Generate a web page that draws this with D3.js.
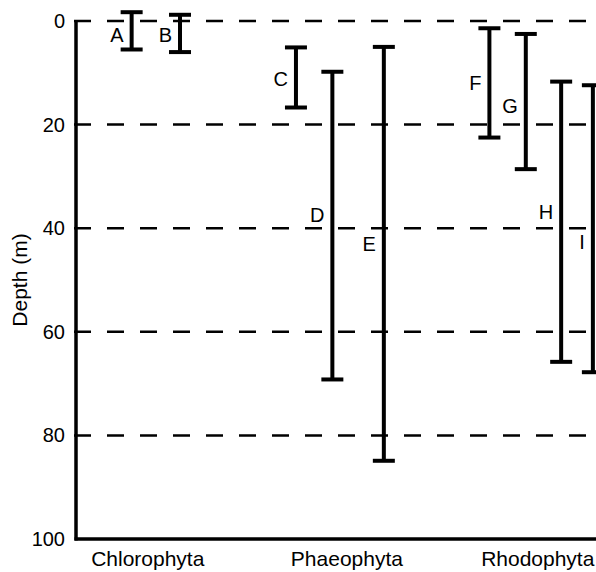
<!DOCTYPE html>
<html>
<head>
<meta charset="utf-8">
<script src="https://cdn.jsdelivr.net/npm/d3@7"></script>
<style>
  html, body { margin: 0; padding: 0; background: #fff; }
  svg { display: block; }
  text { font-family: "Liberation Sans", Arial, Helvetica, sans-serif; fill: #000; }
</style>
</head>
<body>
<svg id="chart" width="596" height="572"></svg>
<script>
// ---- data ----
const categories = ["Chlorophyta", "Phaeophyta", "Rhodophyta"];
const categoryPos = [1.38, 5.21, 8.88];          // position along the x axis (axis units 0–10)
const species = ["A", "B", "C", "D", "E", "F", "G", "H", "I"];
const speciesPos = [1.07, 2.0, 4.23, 4.93, 5.92, 7.95, 8.65, 9.33, 9.94];
const depthMin = [-1.7, -1.2, 5.1, 9.8, 5.0, 1.4, 2.5, 11.7, 12.4];
const depthMax = [5.5, 6.0, 16.7, 69.2, 84.9, 22.5, 28.6, 65.8, 67.8];
const labelDepth = [2.7, 2.7, 11.2, 37.5, 43.0, 12.0, 16.4, 36.8, 42.6];
const depthTicks = [0, 20, 40, 60, 80, 100];
const gridDepths = [0, 20, 40, 60, 80];

(function () {
  const svg = d3.select("#chart");
  const mLeft = 76, mRight = 596, mTop = 21, mBottom = 539;
  const FS = 20, FS_BIG = 21;

  const x = d3.scaleLinear().domain([0, 10]).range([mLeft, mRight]);
  const y = d3.scaleLinear().domain([0, 100]).range([mTop, mBottom]);

  // dashed grid lines
  svg.append("g").selectAll("line").data(gridDepths).join("line")
    .attr("x1", mLeft - 2).attr("x2", mRight)
    .attr("y1", d => y(d)).attr("y2", d => y(d))
    .attr("stroke", "#000").attr("stroke-width", 2.5)
    .attr("stroke-dasharray", "17,16");

  // y axis
  const yAxis = d3.axisLeft(y).tickValues(depthTicks).tickSize(0).tickPadding(11);
  const gy = svg.append("g").attr("transform", `translate(${mLeft},0)`).call(yAxis)
    .attr("font-size", FS).attr("font-family", '"Liberation Sans", Arial, sans-serif');
  gy.select(".domain").remove();
  gy.selectAll("text").attr("font-size", FS);

  // x axis (category labels)
  const gx = svg.append("g").attr("transform", `translate(0,${mBottom})`);
  gx.selectAll("text").data(categories).join("text")
    .attr("x", (d, i) => x(categoryPos[i]))
    .attr("y", 27)
    .attr("text-anchor", "middle")
    .attr("font-size", FS_BIG)
    .text(d => d);

  // axis frame lines
  svg.append("line").attr("x1", mLeft).attr("x2", mLeft).attr("y1", mTop).attr("y2", mBottom + 1.5)
    .attr("stroke", "#000").attr("stroke-width", 3.5);
  svg.append("line").attr("x1", mLeft - 1.5).attr("x2", mRight).attr("y1", mBottom).attr("y2", mBottom)
    .attr("stroke", "#000").attr("stroke-width", 3.5);

  // y axis title
  svg.append("text")
    .attr("transform", `translate(27,280) rotate(-90)`)
    .attr("text-anchor", "middle")
    .attr("font-size", FS_BIG)
    .text("Depth (m)");

  // range bars
  const bars = species.map((s, i) => ({ s, pos: speciesPos[i], lo: depthMin[i], hi: depthMax[i], lab: labelDepth[i] }));
  const capW = 22;
  const bg = svg.append("g").selectAll("g").data(bars).join("g");
  bg.append("line")
    .attr("x1", d => x(d.pos)).attr("x2", d => x(d.pos))
    .attr("y1", d => y(d.lo)).attr("y2", d => y(d.hi))
    .attr("stroke", "#000").attr("stroke-width", 4);
  bg.append("line")
    .attr("x1", d => x(d.pos) - capW / 2).attr("x2", d => x(d.pos) + capW / 2)
    .attr("y1", d => y(d.lo)).attr("y2", d => y(d.lo))
    .attr("stroke", "#000").attr("stroke-width", 4);
  bg.append("line")
    .attr("x1", d => x(d.pos) - capW / 2).attr("x2", d => x(d.pos) + capW / 2)
    .attr("y1", d => y(d.hi)).attr("y2", d => y(d.hi))
    .attr("stroke", "#000").attr("stroke-width", 4);
  bg.append("text")
    .attr("x", d => x(d.pos) - 8)
    .attr("y", d => y(d.lab) + 7)
    .attr("text-anchor", "end")
    .attr("font-size", FS)
    .text(d => d.s);
})();
</script>
</body>
</html>
